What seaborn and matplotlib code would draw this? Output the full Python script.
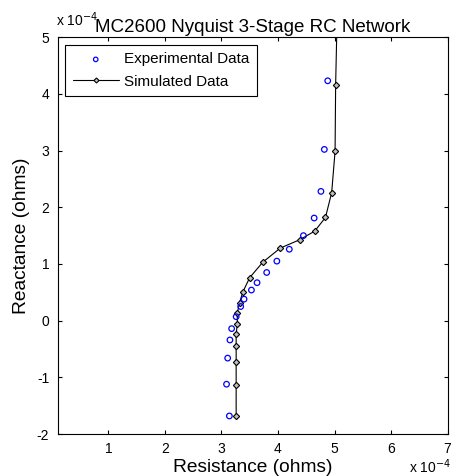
import matplotlib
matplotlib.use("Agg")
import matplotlib.pyplot as plt
import seaborn as sns
import pandas as pd

# values in units of 1e-4 ohms
sim_resistance = [3.26, 3.26, 3.26, 3.26, 3.26, 3.28, 3.28, 3.32, 3.38, 3.50, 3.73, 4.04,
                  4.39, 4.65, 4.84, 4.95, 5.01, 5.02, 5.06]
sim_reactance = [-1.68, -1.14, -0.725, -0.44, -0.24, -0.055, 0.13, 0.32, 0.51, 0.76, 1.03, 1.28,
                 1.43, 1.58, 1.82, 2.26, 2.99, 4.16, 6.0]
exp_resistance = [3.14, 3.09, 3.11, 3.15, 3.18, 3.26, 3.34, 3.40, 3.53, 3.63, 3.80, 3.98,
                  4.20, 4.45, 4.64, 4.76, 4.82, 4.88]
exp_reactance = [-1.68, -1.12, -0.66, -0.34, -0.14, 0.07, 0.25, 0.38, 0.54, 0.67, 0.85, 1.05,
                 1.26, 1.50, 1.81, 2.28, 3.02, 4.23]
x_ticks = [1, 2, 3, 4, 5, 6, 7]
y_ticks = [-2, -1, 0, 1, 2, 3, 4, 5]

sns.set_style("ticks")
plt.rcParams['font.family'] = ['Liberation Sans', 'DejaVu Sans']
plt.rcParams['text.color'] = 'black'
plt.rcParams['axes.labelcolor'] = 'black'

sim = pd.DataFrame({"R": sim_resistance, "X": sim_reactance})
exp = pd.DataFrame({"R": exp_resistance, "X": exp_reactance})

fig = plt.figure(figsize=(4.53, 4.76), dpi=100)
ax = fig.add_axes([0.127, 0.088, 0.861, 0.834])

sns.scatterplot(data=exp, x="R", y="X", ax=ax, marker="o", s=16,
                facecolors="none", edgecolor="#0000ff", linewidth=0.9,
                label="Experimental Data", zorder=3)
sns.lineplot(data=sim, x="R", y="X", ax=ax, sort=False, estimator=None,
             color="black", linewidth=0.8,
             marker="D", markersize=3.2, markerfacecolor="#c0c0c0",
             markeredgecolor="black", markeredgewidth=0.8,
             label="Simulated Data", zorder=2)

ax.set_xlim(0.1, 7)
ax.set_ylim(-2, 5)
ax.set_xticks(x_ticks)
ax.set_yticks(y_ticks)
ax.set_xticklabels([str(t) for t in x_ticks])
ax.set_yticklabels([str(t) for t in y_ticks])
ax.tick_params(direction="in", length=3, width=0.8, labelsize=10, colors="black",
               top=True, right=True, pad=6)
for sp in ax.spines.values():
    sp.set_visible(True)
    sp.set_linewidth(0.8)
    sp.set_color("black")

ax.set_xlabel("Resistance (ohms)", fontsize=13.8, labelpad=2)
ax.set_ylabel("Reactance (ohms)", fontsize=13.8, labelpad=5)
ax.set_title("MC2600 Nyquist 3-Stage RC Network", fontsize=13.5, pad=4)

fig.text(0.124, 0.939, r"x 10$^{-4}$", fontsize=10, ha="left", va="bottom")
fig.text(0.902, 0.001, r"x 10$^{-4}$", fontsize=10, ha="left", va="bottom")

leg = ax.legend(loc="upper left", fontsize=11, frameon=True, fancybox=False,
                edgecolor="black", framealpha=1, borderaxespad=0.5,
                handlelength=3.0, borderpad=0.5, labelspacing=0.55, handletextpad=0.35,
                markerscale=0.8)
leg.get_frame().set_linewidth(0.8)

fig.savefig("out.png", dpi=100)
